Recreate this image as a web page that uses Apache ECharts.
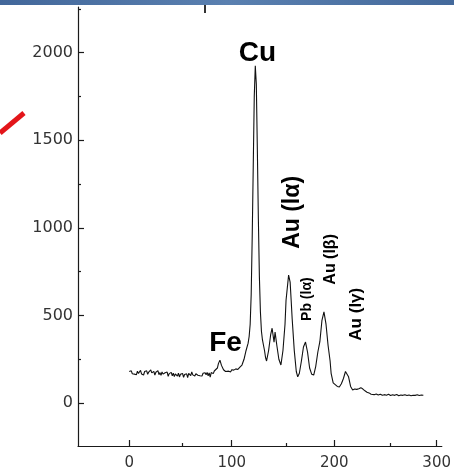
<!DOCTYPE html>
<html>
<head>
<meta charset="utf-8">
<script src="https://cdn.jsdelivr.net/npm/echarts@6/dist/echarts.min.js"></script>
<style>
html, body { margin: 0; padding: 0; background: #fff; }
#spectrum { width: 454px; height: 472px; }
</style>
</head>
<body>
<div id="spectrum"></div>
<script>
// spectrum trace (channel, counts)
var channel = [
  0,1,2,3,4,5,6,7,8,9,10,11,12,13,14,15,16,17,18,19,20,21,22,23,24,25,26,27,28,29,
  30,31,32,33,34,35,36,37,38,39,40,41,42,43,44,45,46,47,48,49,50,51,52,53,54,55,56,57,58,59,
  60,61,62,63,64,65,66,67,68,69,70,71,72,73,74,75,76,77,78,79,80,81,82,83,84,
  86,87,88.5,90,92,94,95,97,99,100,102,104,106,108,110,112,114,116,117,118,119,120,121,122,123,124,125,126,127,128,
  129,130,131,132,133,134,136,138,139.4,141.3,142.3,144,146,148,150,152,153,155.5,157,158,159,161,163,164.4,
  166,168,170,172,174,176,178,180,182,184,186,188,190,192,194,196,197,199,201,203,205,207,209,211,212.5,214,216,218,
  220,222,224,226,228,230,232,234,236,237,239,241,243,245,247,249,251,253,255,257,259,261,263,265,267,269,271,273,
  275,277,279,281,283,285,287
];
var counts = [
  180,170,184,167,178,165,176,162,182,169,177,187,166,176,160,180,170,184,164,177,168,189,172,165,181,160,176,167,185,162,
  174,158,178,165,155,173,162,177,153,168,160,175,156,170,151,166,158,154,170,149,164,155,169,147,163,153,167,145,170,175,
  157,178,161,172,154,167,174,159,170,156,167,154,170,159,173,161,175,156,172,148,174,180,168,183,188,
  200,225,245,215,190,180,177,182,178,190,188,195,192,205,217,250,300,342,380,450,620,950,1350,1750,1925,1820,1450,1050,720,520,
  410,360,330,300,260,240,300,390,427,348,405,330,250,217,300,450,587,730,690,587,480,302,180,150,
  170,240,320,348,290,200,165,160,210,290,350,470,520,450,330,240,170,115,105,95,92,110,140,180,190,150,95,75,
  80,78,82,88,80,70,62,58,50,55,48,52,46,50,44,48,45,50,43,47,44,49,42,46,44,48,43,46,
  42,45,44,47,43,46,45
];

// axis ticks
var xMajor = [0, 100, 200, 300];
var xMinor = [50, 150, 250];
var yMajor = [0, 500, 1000, 1500, 2000];
var yMinor = [250, 750, 1250, 1750, 2250];

// peak annotations
var peakNames = ['Cu', 'Fe', 'Au (lα)', 'Pb (lα)', 'Au (lβ)', 'Au (lγ)'];
var peakX = [125, 94, 159, 174, 196, 222];
var peakY = [1994, 340, 1088, 593, 820, 507];

var labelStyle = {
  'Cu': { fontSize: 28, rotate: 0 },
  'Fe': { fontSize: 28, rotate: 0 },
  'Au (lα)': { fontSize: 23, rotate: 90 },
  'Pb (lα)': { fontSize: 14, rotate: 90 },
  'Au (lβ)': { fontSize: 16, rotate: 90 },
  'Au (lγ)': { fontSize: 17, rotate: 90 }
};

var trace = channel.map(function (c, i) { return [c, counts[i]]; });
var peaks = peakNames.map(function (n, i) {
  return { name: n, value: [peakX[i], peakY[i]], label: labelStyle[n] };
});

var font = '"Liberation Sans", Arial, sans-serif';
var tickFont = '"DejaVu Sans", sans-serif';
var ink = '#1a1a1a';
var gridBox = { left: 78, right: 6, top: 7, bottom: 26 };
var plain = function (v) { return String(v); };

var chart = echarts.init(document.getElementById('spectrum'));

var option = {
  animation: false,
  backgroundColor: '#fff',
  grid: [
    Object.assign({}, gridBox),
    Object.assign({}, gridBox)
  ],
  xAxis: [
    {
      type: 'value', gridIndex: 0, min: -50, max: 305,
      axisLine: { show: true, onZero: false, lineStyle: { color: ink, width: 1.2 } },
      axisTick: { show: true, inside: true, length: 6, customValues: xMajor, lineStyle: { color: ink, width: 1.2 } },
      axisLabel: { customValues: xMajor, formatter: plain, fontSize: 15, color: '#333', margin: 10, fontFamily: tickFont },
      splitLine: { show: false }
    },
    {
      type: 'value', gridIndex: 1, min: -50, max: 305,
      axisLine: { show: false, onZero: false },
      axisTick: { show: true, inside: true, length: 3, customValues: xMinor, lineStyle: { color: ink, width: 1.2 } },
      axisLabel: { show: false },
      splitLine: { show: false }
    }
  ],
  yAxis: [
    {
      type: 'value', gridIndex: 0, min: -245, max: 2260,
      axisLine: { show: true, onZero: false, lineStyle: { color: ink, width: 1.2 } },
      axisTick: { show: true, inside: true, length: 6, customValues: yMajor, lineStyle: { color: ink, width: 1.2 } },
      axisLabel: { customValues: yMajor, formatter: plain, fontSize: 16, color: '#333', margin: 5, fontFamily: tickFont },
      splitLine: { show: false }
    },
    {
      type: 'value', gridIndex: 1, min: -245, max: 2260,
      axisLine: { show: false, onZero: false },
      axisTick: { show: true, inside: true, length: 3, customValues: yMinor, lineStyle: { color: ink, width: 1.2 } },
      axisLabel: { show: false },
      splitLine: { show: false }
    }
  ],
  series: [
    {
      type: 'line',
      xAxisIndex: 0, yAxisIndex: 0,
      data: trace,
      showSymbol: false,
      lineStyle: { color: '#111', width: 1.1 },
      silent: true
    },
    {
      type: 'scatter',
      xAxisIndex: 0, yAxisIndex: 0,
      data: peaks,
      symbolSize: 0,
      silent: true,
      itemStyle: { opacity: 1 },
      label: {
        show: true,
        position: 'inside',
        formatter: '{b}',
        fontWeight: 'bold',
        color: '#000',
        opacity: 1,
        fontFamily: font
      }
    }
  ],
  graphic: [
    {
      type: 'rect',
      shape: { x: 0, y: 0, width: 454, height: 5 },
      style: {
        fill: new echarts.graphic.LinearGradient(0, 0, 1, 0, [
          { offset: 0, color: '#42679a' },
          { offset: 0.5, color: '#5a80b0' },
          { offset: 1, color: '#44699b' }
        ])
      }
    },
    {
      type: 'line',
      shape: { x1: 0, y1: 133, x2: 24, y2: 113 },
      style: { stroke: '#e3151a', lineWidth: 5 }
    },
    {
      type: 'rect',
      shape: { x: 204, y: 5, width: 2, height: 8 },
      style: { fill: '#333' }
    }
  ]
};

chart.setOption(option);
</script>
</body>
</html>
